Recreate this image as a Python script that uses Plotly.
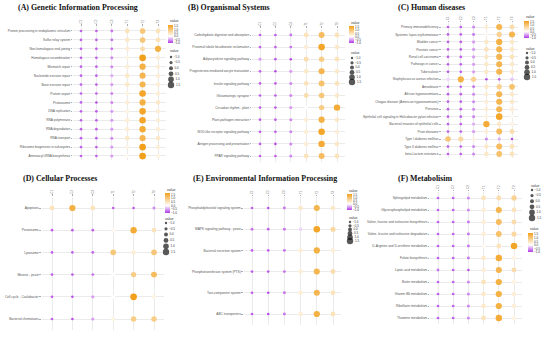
import plotly.graph_objects as go

samples = ["C1", "C2", "C3", "T1", "T2", "T3"]
legend_values = [-1.0, -0.5, 0.0, 0.5, 1.0, 1.5]
legend_labels = ["\u22121.0", "\u22120.5", "0.0", "0.5", "1.0", "1.5"]

a_terms = ["Protein processing in endoplasmic reticulum", "Sulfur relay system", "Non-homologous end-joining",
           "Homologous recombination", "Mismatch repair", "Nucleotide excision repair", "Base excision repair",
           "Protein export", "Proteasome", "DNA replication", "RNA polymerase", "RNA degradation",
           "RNA transport", "Ribosome biogenesis in eukaryotes", "Aminoacyl-tRNA biosynthesis"]
a_vals = [[-0.8, -0.8, -0.7, 0.5, 1.0, 0.5], [-0.8, -0.8, -0.7, 0.4, 1.0, 0.5], [-0.8, -0.8, -0.7, 0.3, 0.6, 1.4],
          [-0.8, -0.8, -0.6, 0.2, 1.7, 0.3], [-0.8, -0.8, -0.6, 0.3, 1.4, 0.3], [-0.8, -0.8, -0.4, 0.4, 1.3, 0.3],
          [-0.8, -0.8, -0.5, 0.4, 1.3, 0.3], [-0.8, -0.8, -0.6, 0.2, 1.6, 0.3], [-0.8, -0.9, -0.6, 0.3, 1.4, 0.4],
          [-0.8, -0.8, -0.5, 0.2, 1.6, 0.3], [-0.8, -0.8, -0.5, 0.3, 1.6, 0.3], [-0.8, -0.8, -0.5, 0.3, 1.5, 0.3],
          [-0.8, -0.8, -0.6, 0.4, 1.3, 0.4], [-0.8, -0.8, -0.5, 0.2, 1.7, 0.3], [-0.8, -0.8, -0.5, 0.1, 1.7, 0.2]]

b_terms = ["Carbohydrate digestion and absorption", "Proximal tubule bicarbonate reclamation",
           "Adipocytokine signaling pathway", "Progesterone-mediated oocyte maturation", "Insulin signaling pathway",
           "Glutamatergic synapse", "Circadian rhythm - plant", "Plant-pathogen interaction",
           "NOD-like receptor signaling pathway", "Antigen processing and presentation", "PPAR signaling pathway"]
b_vals = [[-0.8, -0.8, -0.7, 0.5, 1.2, 0.5], [-0.8, -0.8, -0.7, 0.3, 1.6, 0.4], [-0.5, -0.8, -0.9, 0.6, 0.9, 0.5],
          [-0.8, -0.9, -0.5, 0.4, 1.3, 0.4], [-0.8, -0.8, -0.6, 0.5, 1.1, 0.5], [-0.8, -0.8, -0.6, 0.6, 1.0, 0.4],
          [-0.8, -0.8, -0.5, 0.0, 0.9, 1.5], [-0.8, -0.8, -0.6, 0.3, 1.4, 0.4], [-0.8, -0.8, -0.6, 0.3, 1.6, 0.3],
          [-0.8, -0.9, -0.6, 0.3, 1.5, 0.4], [-0.8, -0.8, -0.6, 0.5, 1.2, 0.5]]

c_terms = ["Primary immunodeficiency", "Systemic lupus erythematosus", "Bladder cancer", "Prostate cancer",
           "Renal cell carcinoma", "Pathways in cancer", "Tuberculosis", "Staphylococcus aureus infection",
           "Amoebiasis", "African trypanosomiasis", "Chagas disease (American trypanosomiasis)", "Pertussis",
           "Epithelial cell signaling in Helicobacter pylori infection", "Bacterial invasion of epithelial cells",
           "Prion diseases", "Type I diabetes mellitus", "Type II diabetes mellitus", "beta-Lactam resistance"]
c_vals = [[-0.8, -0.8, -0.6, 0.3, 1.3, 0.6], [-0.8, -0.8, -0.7, 0.1, 0.8, 1.3], [-0.8, -0.8, -0.5, 0.4, 1.4, 0.4],
          [-0.8, -0.8, -0.5, 0.5, 1.3, 0.4], [-0.8, -0.8, -0.5, 0.4, 1.3, 0.5], [-0.8, -0.8, -0.5, 0.4, 1.3, 0.4],
          [-0.9, -0.8, -0.5, 0.4, 1.3, 0.4], [-0.2, 1.4, 0.8, -0.9, -0.8, -0.3], [-0.8, -0.8, -0.7, 0.4, 0.8, 1.1],
          [-0.8, -0.8, -0.6, 0.3, 1.3, 0.4], [-0.8, -0.8, -0.6, 0.3, 1.3, 0.4], [-0.8, -0.8, -0.6, 0.3, 1.3, 0.3],
          [-0.8, -0.8, -0.6, 0.2, 1.6, 0.1], [-0.8, -0.8, -0.4, 1.5, 0.4, 0.2], [-0.8, -0.8, -0.5, 0.3, 1.2, 0.6],
          [1.0, 0.7, 0.2, -0.6, -0.4, -0.9], [-0.8, -0.8, -0.6, 0.4, 1.2, 0.5], [-0.8, -0.8, -0.6, 0.4, 1.1, 0.5]]

d_terms = ["Apoptosis", "Peroxisome", "Lysosome", "Meiosis - yeast", "Cell cycle - Caulobacter",
           "Bacterial chemotaxis"]
d_vals = [[0.5, 1.4, 0.5, -0.8, -0.8, -0.6], [-0.8, -0.8, -0.8, 0.1, 1.5, 0.5], [-0.8, -0.8, -0.8, 1.0, 0.3, 1.0],
          [-0.8, -0.8, -0.7, 0.0, 0.9, 1.2], [-0.8, -0.9, -0.5, 0.0, 1.7, 0.2], [-0.8, -0.9, -0.5, 0.2, 0.9, 0.9]]

e_terms = ["Phosphatidylinositol signaling system", "MAPK signaling pathway - yeast", "Bacterial secretion system",
           "Phosphotransferase system (PTS)", "Two-component system", "ABC transporters"]
e_vals = [[-0.8, -0.9, -0.7, 0.4, 1.3, 0.4], [-0.7, -0.8, -0.7, -0.2, 1.6, 0.7], [-0.8, -0.8, -0.7, 0.3, 1.4, 0.3],
          [-0.8, -0.8, -0.7, 0.3, 1.3, 0.6], [-0.8, -0.9, -0.7, 0.3, 1.3, 0.5], [-0.8, -0.9, -0.7, 0.3, 1.4, 0.5]]

f_terms = ["Sphingolipid metabolism", "Glycerophospholipid metabolism",
           "Valine, leucine and isoleucine biosynthesis", "Valine, leucine and isoleucine degradation",
           "D-Arginine and D-ornithine metabolism", "Folate biosynthesis", "Lipoic acid metabolism",
           "Biotin metabolism", "Vitamin B6 metabolism", "Riboflavin metabolism", "Thiamine metabolism"]
f_vals = [[-0.8, -0.8, -0.6, 0.5, 0.6, 0.8], [-0.8, -0.8, -0.6, 0.3, 1.3, 0.5], [-0.8, -0.8, -0.7, 0.3, 1.2, 0.6],
          [-0.8, -0.8, -0.7, 0.3, 1.1, 0.7], [-0.8, -0.8, -0.7, 0.1, 0.5, 1.6], [-0.8, -0.8, -0.7, 0.4, 1.5, 0.2],
          [-0.7, -0.8, -0.9, 0.3, 1.3, 0.6], [-0.8, -0.8, -0.6, 0.5, 1.4, 0.2], [-0.8, -0.8, -0.6, 0.4, 1.4, 0.3],
          [-0.8, -0.8, -0.6, 0.4, 1.4, 0.3], [-0.8, -0.8, -0.6, 0.5, 1.5, 0.2]]

W, H = 550, 337
CMIN, CMAX = -1.0, 1.7
SCALE = [[0, "#b03ae4"], [(0 - CMIN) / (CMAX - CMIN), "#ffffff"], [1, "#f2a01c"]]


def msize(v):
    return 2.4 + (v + 1.0) * 1.6


# layout geometry in pixels
panels = [
    dict(title="(A) Genetic Information Processing", terms=a_terms, vals=a_vals, cols=(81, 158), rows=(31, 156),
         tpos=(16, 7), cb=(168, 25, 43, 21), sl=(171, 57, 85, 51)),
    dict(title="(B) Organismal Systems", terms=b_terms, vals=b_vals, cols=(260, 337), rows=(35, 156),
         tpos=(186, 7), cb=(349, 26, 43, 23), sl=(352, 58, 82, 53)),
    dict(title="(C) Human diseases", terms=c_terms, vals=c_vals, cols=(448, 512), rows=(27, 154),
         tpos=(396, 7), cb=(524, 21, 38, 17), sl=(527, 53, 77, 49)),
    dict(title="(D) Cellular Processes", terms=d_terms, vals=d_vals, cols=(52, 154), rows=(208, 319),
         tpos=(21, 178), cb=(165, 193, 213, 190), sl=(166, 223, 252, 219)),
    dict(title="(E) Environmental Information Processing", terms=e_terms, vals=e_vals, cols=(252, 333),
         rows=(208, 314), tpos=(191, 178), cb=(347, 194, 210, 191), sl=(350, 222, 241, 218)),
    dict(title="(F) Metabolisim", terms=f_terms, vals=f_vals, cols=(438, 514), rows=(198, 318),
         tpos=(396, 178), cb=(528, 233, 252, 229), sl=(532, 190, 218, 186)),
]

fig = go.Figure()
layout = dict(width=W, height=H, margin=dict(l=0, r=0, t=0, b=0, autoexpand=False), paper_bgcolor="white",
              plot_bgcolor="white", showlegend=False, annotations=[])

for i, p in enumerate(panels, start=1):
    xs, ys, cs, ss = [], [], [], []
    for term, row in zip(p["terms"], p["vals"]):
        for s, v in zip(samples, row):
            xs.append(s)
            ys.append(term)
            cs.append(v)
            ss.append(msize(v))
    cax = "coloraxis" if i == 1 else f"coloraxis{i}"
    sfx = "" if i == 1 else str(i)
    fig.add_trace(go.Scatter(x=xs, y=ys, mode="markers", xaxis=f"x{sfx}", yaxis=f"y{sfx}",
                             marker=dict(size=ss, color=cs, coloraxis=cax, line=dict(width=0), opacity=1)))
    c0, c1 = p["cols"]
    sx = (c1 - c0) / 5
    r0, r1 = p["rows"]
    n = len(p["terms"])
    sy = (r1 - r0) / (n - 1)
    layout[f"xaxis{sfx}"] = dict(domain=[(c0 - 0.5 * sx) / W, (c1 + 0.5 * sx) / W], anchor=f"y{sfx}",
                                 side="top", type="category", categoryorder="array", categoryarray=samples,
                                 range=[-0.5, 5.5], showgrid=True, gridcolor="#ebebeb", gridwidth=0.6,
                                 zeroline=False, showline=False, ticks="outside", ticklen=1.5,
                                 tickcolor="#aaaaaa", tickwidth=0.5, tickangle=-90,
                                 tickfont=dict(size=3, color="#777777", family="Liberation Sans"))
    layout[f"yaxis{sfx}"] = dict(domain=[1 - (r1 + 0.5 * sy) / H, 1 - (r0 - 0.5 * sy) / H], anchor=f"x{sfx}",
                                 type="category", categoryorder="array", categoryarray=p["terms"],
                                 range=[n - 0.5, -0.5], showgrid=True, gridcolor="#ebebeb", gridwidth=0.6,
                                 zeroline=False, showline=False, ticks="outside", ticklen=1.5,
                                 tickcolor="#aaaaaa", tickwidth=0.5,
                                 tickfont=dict(size=3.2, color="#555555", family="Liberation Sans"))
    cbx, cbt, cbb, cbtitle = p["cb"]
    layout[cax] = dict(cmin=CMIN, cmax=CMAX, colorscale=SCALE,
                       colorbar=dict(x=cbx / W, xanchor="left", y=1 - cbt / H, yanchor="top",
                                     len=(cbb - cbt) / H, lenmode="fraction", thickness=5, xpad=0, ypad=0,
                                     outlinewidth=0, ticks="", tickvals=legend_values, ticktext=legend_labels,
                                     tickfont=dict(size=3, color="#333333", family="Liberation Sans"),
                                     title=dict(text="")))
    layout["annotations"].append(dict(x=cbx / W, y=1 - cbtitle / H, xref="paper", yref="paper", text="value",
                                      showarrow=False, xanchor="left", yanchor="middle",
                                      font=dict(size=3.5, color="#333333", family="Liberation Sans")))
    # size legend
    lx, lt, lb, ltitle = p["sl"]
    ds = (lb - lt) / 5
    k = i + 6
    fig.add_trace(go.Scatter(x=[0.25] * len(legend_values), y=legend_values, mode="markers+text",
                             text=legend_labels, textposition="middle right", xaxis=f"x{k}", yaxis=f"y{k}",
                             textfont=dict(size=3, color="#333333", family="Liberation Sans"),
                             marker=dict(size=[msize(v) for v in legend_values], color="#111111",
                                         line=dict(width=0)), cliponaxis=False))
    layout[f"xaxis{k}"] = dict(domain=[(lx - 4) / W, (lx + 12) / W], anchor=f"y{k}", range=[0, 1], visible=False)
    layout[f"yaxis{k}"] = dict(domain=[1 - (lb + ds / 2) / H, 1 - (lt - ds / 2) / H], anchor=f"x{k}",
                               range=[1.75, -1.25], visible=False)
    layout["annotations"].append(dict(x=(lx - 3) / W, y=1 - ltitle / H, xref="paper", yref="paper", text="value",
                                      showarrow=False, xanchor="left", yanchor="middle",
                                      font=dict(size=3.5, color="#333333", family="Liberation Sans")))
    tx, ty = p["tpos"]
    layout["annotations"].append(dict(x=tx / W, y=1 - ty / H, xref="paper", yref="paper",
                                      text=f"<b>{p['title']}</b>", showarrow=False, xanchor="left",
                                      yanchor="middle",
                                      font=dict(size=7.9, color="#111111", family="Liberation Serif")))

fig.update_layout(**layout)
fig.write_html("out.html", config={"displayModeBar": False},
               post_script="document.body.style.margin='0';document.body.style.padding='0';")
